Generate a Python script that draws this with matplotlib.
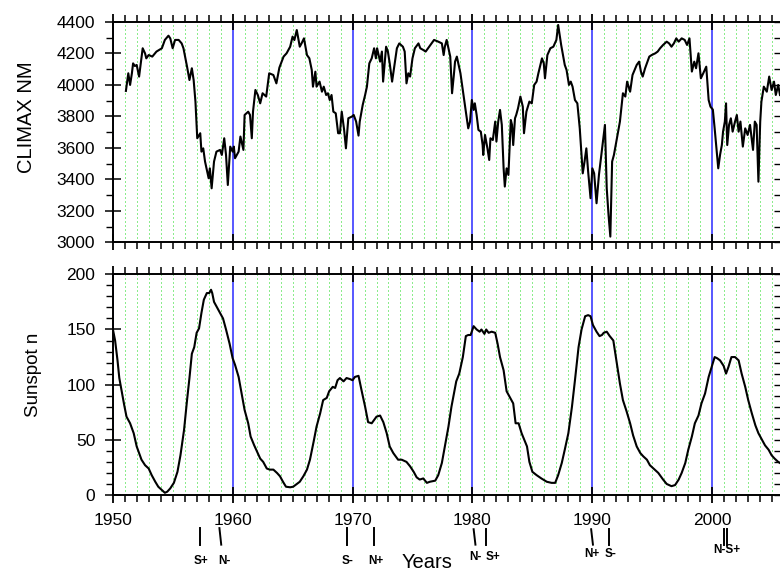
import matplotlib
matplotlib.use("agg")
import matplotlib.pyplot as plt
import matplotlib.transforms as mtransforms
from matplotlib.ticker import MultipleLocator

plt.rcParams["font.family"] = ["Liberation Sans", "DejaVu Sans"]

# Climax neutron monitor
nm_year = [
    1951.1, 1951.3, 1951.45, 1951.6, 1951.7, 1951.85, 1952.0, 1952.2, 1952.5, 1952.7,
    1952.8, 1953.0, 1953.3, 1953.65, 1954.1, 1954.35, 1954.65, 1954.8, 1955.0, 1955.2,
    1955.5, 1955.75, 1955.9, 1956.2, 1956.4, 1956.6, 1956.75, 1956.9, 1957.05, 1957.3,
    1957.4, 1957.55, 1957.7, 1958.0, 1958.1, 1958.25, 1958.45, 1958.65, 1958.95, 1959.1,
    1959.3, 1959.45, 1959.6, 1959.8, 1960.0, 1960.1, 1960.2, 1960.5, 1960.65, 1960.9,
    1961.0, 1961.3, 1961.45, 1961.6, 1961.7, 1961.9, 1962.1, 1962.3, 1962.5, 1962.8,
    1963.05, 1963.4, 1963.65, 1963.9, 1964.25, 1964.5, 1964.8, 1965.0, 1965.15, 1965.35,
    1965.6, 1965.75, 1965.95, 1966.2, 1966.4, 1966.6, 1966.7, 1966.9, 1967.0, 1967.25,
    1967.45, 1967.6, 1967.8, 1967.95, 1968.1, 1968.25, 1968.4, 1968.6, 1968.8, 1968.95,
    1969.1, 1969.3, 1969.45, 1969.65, 1969.95, 1970.1, 1970.3, 1970.5, 1970.6, 1970.85,
    1971.05, 1971.2, 1971.4, 1971.6, 1971.8, 1971.95, 1972.05, 1972.3, 1972.45, 1972.55,
    1972.8, 1972.95, 1973.1, 1973.3, 1973.5, 1973.7, 1973.9, 1974.2, 1974.35, 1974.5,
    1974.65, 1974.8, 1975.0, 1975.2, 1975.5, 1975.65, 1975.9, 1976.1, 1976.3, 1976.6,
    1976.8, 1977.15, 1977.45, 1977.6, 1977.7, 1977.85, 1978.0, 1978.15, 1978.3, 1978.45,
    1978.55, 1978.7, 1978.85, 1979.0, 1979.25, 1979.45, 1979.65, 1979.8, 1979.95, 1980.1,
    1980.2, 1980.35, 1980.5, 1980.7, 1980.85, 1980.9, 1981.05, 1981.25, 1981.4, 1981.5,
    1981.7, 1981.9, 1982.0, 1982.15, 1982.3, 1982.45, 1982.6, 1982.7, 1982.85, 1983.0,
    1983.2, 1983.3, 1983.4, 1983.55, 1983.65, 1983.8, 1984.0, 1984.2, 1984.3, 1984.5,
    1984.75, 1984.95, 1985.15, 1985.35, 1985.5, 1985.8, 1985.95, 1986.05, 1986.25, 1986.5,
    1986.75, 1987.0, 1987.15, 1987.4, 1987.7, 1987.85, 1988.05, 1988.2, 1988.35, 1988.55,
    1988.75, 1988.95, 1989.2, 1989.35, 1989.5, 1989.65, 1989.85, 1990.0, 1990.15, 1990.35,
    1990.55, 1990.75, 1991.05, 1991.2, 1991.35, 1991.5, 1991.65, 1991.8, 1992.0, 1992.3,
    1992.55, 1992.75, 1992.9, 1993.15, 1993.35, 1993.7, 1993.9, 1994.05, 1994.2, 1994.4,
    1994.75, 1994.95, 1995.25, 1995.45, 1995.65, 1995.9, 1996.2, 1996.4, 1996.6, 1996.8,
    1997.0, 1997.2, 1997.45, 1997.7, 1997.9, 1998.1, 1998.3, 1998.5, 1998.65, 1998.85,
    1999.05, 1999.25, 1999.5, 1999.7, 1999.85, 2000.05, 2000.2, 2000.35, 2000.5, 2000.65,
    2000.8, 2000.9, 2001.05, 2001.15, 2001.25, 2001.4, 2001.55, 2001.7, 2001.9, 2002.05,
    2002.2, 2002.35, 2002.55, 2002.75, 2002.95, 2003.15, 2003.4, 2003.55, 2003.7, 2003.85,
    2004.0, 2004.1, 2004.3, 2004.55, 2004.75, 2004.95, 2005.15, 2005.3, 2005.5, 2005.65,
]
nm_count = [
    3962, 4074, 4000, 4074, 4137, 4120, 4127, 4053, 4233, 4200,
    4169, 4190, 4180, 4212, 4233, 4286, 4313, 4296, 4233, 4286,
    4286, 4264, 4233, 4116, 4031, 4106, 4031, 3894, 3661, 3693,
    3576, 3597, 3513, 3407, 3470, 3343, 3513, 3576, 3587, 3555,
    3661, 3555, 3364, 3608, 3576, 3608, 3534, 3576, 3672, 3587,
    3809, 3830, 3809, 3661, 3830, 3968, 3936, 3883, 3947, 3926,
    4074, 4063, 4010, 4110, 4180, 4201, 4243, 4307, 4285, 4349,
    4243, 4264, 4296, 4190, 4169, 4095, 3989, 4084, 3989, 4021,
    3957, 3989, 3936, 3947, 3904, 3936, 3830, 3820, 3693, 3693,
    3830, 3714, 3597, 3788, 3799, 3809, 3767, 3678, 3767, 3873,
    3936, 3989, 4137, 4169, 4233, 4169, 4233, 4148, 4212, 4021,
    4243, 4212, 4137, 4021, 4127, 4233, 4264, 4243, 4212, 4010,
    4074, 4053, 4169, 4233, 4264, 4233, 4222, 4212, 4233, 4264,
    4286, 4275, 4264, 4190, 4243, 4286, 4233, 4180, 3947, 4063,
    4148, 4180, 4127, 4074, 3936, 3830, 3724, 3767, 3904, 3841,
    3883, 3809, 3714, 3703, 3618, 3555, 3682, 3597, 3523, 3661,
    3650, 3767, 3640, 3767, 3841, 3746, 3470, 3354, 3470, 3428,
    3777, 3746, 3618, 3788, 3809, 3851, 3926, 3862, 3693, 3830,
    3894, 3883, 4000, 4021, 4074, 4169, 4137, 4042, 4190, 4233,
    4243, 4286, 4381, 4254, 4127, 4095, 4000, 4021, 3989, 3904,
    3883, 3724, 3438, 3513, 3597, 3449, 3280, 3470, 3438, 3248,
    3428, 3555, 3746, 3343, 3174, 3036, 3513, 3555, 3640, 3767,
    3947, 3926, 4021, 3957, 4063, 4127, 4148, 4085, 4053, 4106,
    4180, 4190, 4201, 4212, 4233, 4254, 4275, 4264, 4243, 4264,
    4296, 4275, 4296, 4286, 4254, 4296, 4085, 4148, 4106, 4201,
    4042, 4074, 4116, 3904, 3862, 3843, 3724, 3597, 3470, 3555,
    3618, 3703, 3767, 3883, 3618, 3746, 3788, 3703, 3767, 3809,
    3703, 3767, 3608, 3724, 3682, 3746, 3587, 3767, 3746, 3385,
    3767, 3894, 3989, 3957, 4053, 3968, 4021, 3936, 4000, 3936,
]

# smoothed sunspot number
ss_year = [
    1950.0, 1950.2, 1950.4, 1950.55, 1950.75, 1950.95, 1951.15, 1951.45, 1951.75, 1952.0,
    1952.2, 1952.4, 1952.7, 1953.0, 1953.25, 1953.55, 1953.8, 1954.1, 1954.35, 1954.55,
    1954.8, 1955.1, 1955.4, 1955.65, 1955.95, 1956.2, 1956.4, 1956.6, 1956.8, 1957.0,
    1957.2, 1957.4, 1957.6, 1957.85, 1958.05, 1958.2, 1958.3, 1958.45, 1958.65, 1958.95,
    1959.2, 1959.45, 1959.75, 1960.0, 1960.2, 1960.5, 1960.75, 1961.0, 1961.3, 1961.5,
    1961.8, 1962.05, 1962.3, 1962.55, 1962.85, 1963.1, 1963.4, 1963.7, 1963.95, 1964.2,
    1964.45, 1964.8, 1965.05, 1965.35, 1965.6, 1965.9, 1966.2, 1966.45, 1966.75, 1967.0,
    1967.3, 1967.55, 1967.85, 1968.05, 1968.35, 1968.55, 1968.75, 1968.95, 1969.25, 1969.5,
    1969.8, 1970.0, 1970.2, 1970.5, 1970.75, 1971.05, 1971.3, 1971.6, 1972.0, 1972.3,
    1972.57, 1972.85, 1973.1, 1973.4, 1973.8, 1974.1, 1974.5, 1974.8, 1975.1, 1975.35,
    1975.6, 1975.9, 1976.2, 1976.45, 1976.9, 1977.15, 1977.45, 1977.7, 1978.0, 1978.25,
    1978.65, 1978.9, 1979.2, 1979.45, 1979.65, 1979.85, 1980.1, 1980.35, 1980.6, 1980.75,
    1981.0, 1981.15, 1981.35, 1981.6, 1981.9, 1982.1, 1982.3, 1982.6, 1982.85, 1983.1,
    1983.4, 1983.6, 1983.85, 1984.1, 1984.55, 1984.75, 1985.0, 1985.35, 1985.75, 1986.2,
    1986.6, 1986.9, 1987.15, 1987.45, 1987.7, 1988.0, 1988.3, 1988.55, 1988.85, 1989.1,
    1989.4, 1989.65, 1989.85, 1990.05, 1990.35, 1990.6, 1990.8, 1990.95, 1991.2, 1991.45,
    1991.75, 1992.0, 1992.3, 1992.55, 1992.85, 1993.15, 1993.4, 1993.7, 1994.0, 1994.25,
    1994.55, 1994.8, 1995.1, 1995.5, 1995.9, 1996.2, 1996.6, 1996.9, 1997.2, 1997.45,
    1997.75, 1998.0, 1998.3, 1998.55, 1998.85, 1999.1, 1999.4, 1999.7, 1999.95, 2000.2,
    2000.4, 2000.65, 2000.95, 2001.15, 2001.35, 2001.6, 2001.9, 2002.2, 2002.45, 2002.75,
    2003.0, 2003.3, 2003.6, 2003.85, 2004.15, 2004.4, 2004.7, 2004.95, 2005.2, 2005.5,
    2005.65,
]
ss_value = [
    151, 140, 122, 106, 94, 82, 71, 65, 56, 44,
    38, 32, 27, 24, 18, 12, 7.5, 4.5, 2, 3,
    6, 11, 21, 36, 59, 86, 106, 128, 134, 147,
    151, 165, 177, 183, 183, 186, 183, 175, 171, 165,
    160, 150, 137, 124, 118, 107, 92, 77, 65, 53,
    45, 39, 33, 30, 24, 23, 23, 20, 17, 12,
    7.5, 7, 7.5, 10, 12, 17, 23, 32, 48, 62,
    74, 86, 88, 94, 98, 97, 104, 106, 103, 106,
    105, 104, 107, 108, 95, 80, 66, 65, 71, 72,
    66, 56, 44, 38, 32, 32, 30, 26, 21, 16,
    14, 15, 11, 12, 13, 18, 29, 44, 62, 80,
    103, 110, 125, 144, 145, 145, 153, 150, 148, 150,
    146, 150, 147, 148, 147, 137, 125, 113, 94, 89,
    83, 65, 65, 56, 44, 30, 21, 18, 15, 12,
    11, 11, 18, 29, 41, 56, 80, 104, 134, 150,
    162, 163, 162, 154, 148, 144, 145, 147, 148, 144,
    140, 122, 101, 86, 76, 65, 54, 44, 38, 35,
    32, 27, 24, 20, 14, 10, 8, 9, 14, 20,
    29, 41, 53, 65, 72, 83, 92, 107, 116, 125,
    124, 122, 117, 110, 116, 125, 125, 122, 110, 98,
    86, 74, 63, 56, 50, 45, 41, 36, 33, 30,
    29,
]

# magnetic polarity reversals marked under the axis
rev_year = [1957.25, 1959.05, 1969.5, 1971.8, 1980.25, 1981.1, 1990.05, 1991.4, 2000.99, 2001.26]
rev_label_year = [1957.4, 1959.3, 1969.6, 1971.95, 1980.25, 1981.7, 1989.95, 1991.55, 2001.25]
rev_label = ["S+", "N-", "S-", "N+", "N-", "S+", "N+", "S-", "N-S+"]

fig = plt.figure(figsize=(7.8, 5.71), dpi=100)
ax1 = fig.add_axes([0.1445, 0.5757, 0.8555, 0.3858])
ax2 = fig.add_axes([0.1445, 0.1331, 0.8555, 0.3865])

ax1.plot(nm_year, nm_count, color="black", lw=1.5)
ax2.plot(ss_year, ss_value, color="black", lw=1.5)

ax1.set_ylim(3000, 4400)
ax2.set_ylim(0, 200)
ax1.yaxis.set_major_locator(MultipleLocator(200))
ax1.yaxis.set_minor_locator(MultipleLocator(100))
ax2.yaxis.set_major_locator(MultipleLocator(50))
ax2.yaxis.set_minor_locator(MultipleLocator(10))

for ax in (ax1, ax2):
    ax.set_xlim(1950, 2005.65)
    ax.xaxis.set_major_locator(MultipleLocator(10))
    ax.xaxis.set_minor_locator(MultipleLocator(1))
    ax.grid(which="major", axis="x", color="#2a2aff", lw=1.1, ls="-")
    ax.grid(which="minor", axis="x", color="#8cec8c", lw=1.0, ls=(0, (1, 2)),
            antialiased=False)
    for s in ax.spines.values():
        s.set_linewidth(1.4)
    ax.spines["right"].set_visible(False)
    ax.tick_params(axis="x", which="major", direction="inout", length=12, width=1.3,
                   top=True, labelsize=12.5, pad=7)
    ax.tick_params(axis="x", which="minor", direction="out", length=5, width=1.1, top=True)
    ax.tick_params(axis="y", which="major", direction="inout", length=12, width=1.1,
                   right=False, labelsize=12.5, pad=6.5)
    ax.tick_params(axis="y", which="minor", direction="out", length=5, width=1.0, right=False)
    sec = ax.secondary_yaxis("right")
    sec.yaxis.set_major_locator(ax.yaxis.get_major_locator())
    sec.yaxis.set_minor_locator(ax.yaxis.get_minor_locator())
    sec.tick_params(which="both", direction="in", labelright=False, length=4, width=1.0)
    sec.spines["right"].set_visible(False)

ax1.tick_params(labelbottom=False)

ax1.set_ylabel("CLIMAX NM", fontsize=14.5)
ax1.yaxis.set_label_coords(-0.115, 0.569)
ax2.set_ylabel("Sunspot n", fontsize=13.5)
ax2.yaxis.set_label_coords(-0.106, 0.544)

fig.text(427 / 780, 3 / 571, "Years", ha="center", va="baseline", fontsize=14.5)

# reversal marks below the lower axis
trans = mtransforms.blended_transform_factory(ax2.transData, ax2.transAxes)
label_y = [-0.299, -0.299, -0.299, -0.299, -0.281, -0.281, -0.267, -0.267, -0.249]
for i, yr in enumerate(rev_year):
    slant = 0.15 if i in (1, 4, 6) else 0.0
    top = -0.15 if i < 4 else -0.155
    ax2.plot([yr - slant, yr], [top, -0.225], color="black", lw=1.4,
             transform=trans, clip_on=False)
for yr, lab, ly in zip(rev_label_year, rev_label, label_y):
    ax2.text(yr, ly, lab, transform=trans, ha="center", va="center",
             fontsize=8.5, fontweight="bold")

fig.savefig("out.png", dpi=100)
plt.close(fig)
